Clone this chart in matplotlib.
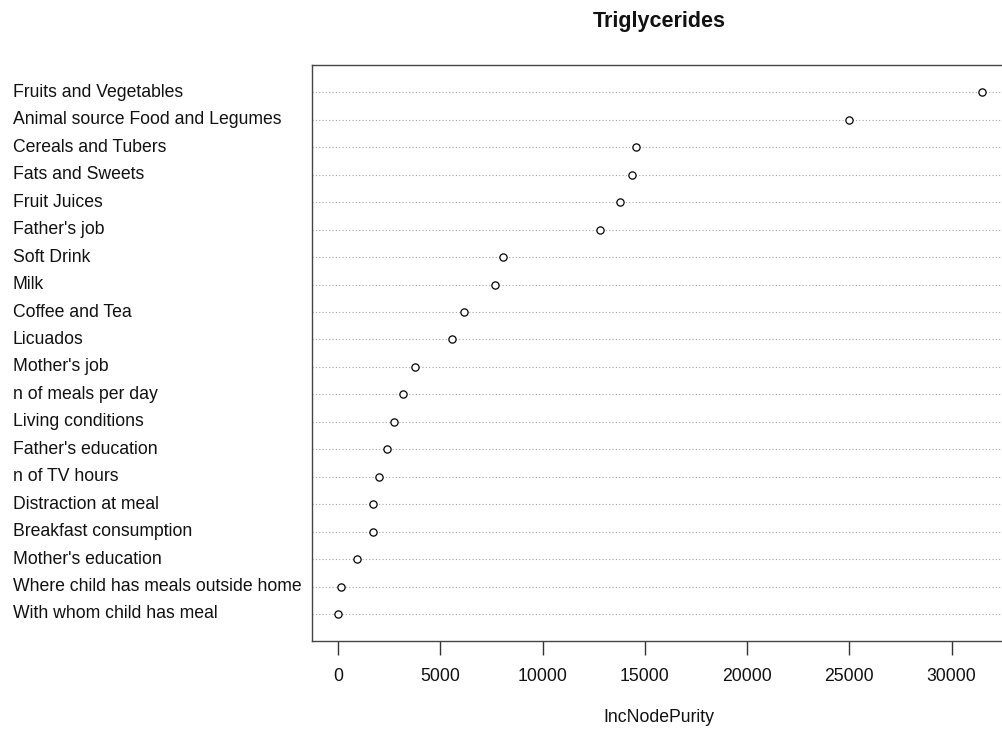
import matplotlib
matplotlib.use("Agg")
import matplotlib.pyplot as plt
from matplotlib.transforms import blended_transform_factory

# Variable importance (IncNodePurity) for triglycerides, ordered top to bottom
variables = [
    "Fruits and Vegetables",
    "Animal source Food and Legumes",
    "Cereals and Tubers",
    "Fats and Sweets",
    "Fruit Juices",
    "Father's job",
    "Soft Drink",
    "Milk",
    "Coffee and Tea",
    "Licuados",
    "Mother's job",
    "n of meals per day",
    "Living conditions",
    "Father's education",
    "n of TV hours",
    "Distraction at meal",
    "Breakfast consumption",
    "Mother's education",
    "Where child has meals outside home",
    "With whom child has meal",
]
inc_node_purity = [
    31500, 25000, 14560, 14380, 13770, 12830, 8060, 7660, 6170, 5560,
    3770, 3150, 2720, 2390, 1990, 1710, 1700, 920, 160, -10,
]
x_ticks = [0, 5000, 10000, 15000, 20000, 25000, 30000]
x_label = "IncNodePurity"
title = "Triglycerides"

plt.rcParams["font.family"] = ["Liberation Sans", "DejaVu Sans"]

W, H = 1002, 729
fig = plt.figure(figsize=(W / 100, H / 100), dpi=100)

# plot region in pixels (box extends slightly past the right edge)
left_px, right_px = 312.2, 1008.0
top_px, bottom_px = 65.0, 641.4
ax = fig.add_axes([left_px / W, 1 - bottom_px / H,
                   (right_px - left_px) / W, (bottom_px - top_px) / H])

n = len(variables)
ypos = list(range(n, 0, -1))

lo, hi = min(inc_node_purity), max(inc_node_purity)
pad = 0.04 * (hi - lo)
ax.set_xlim(lo - pad, hi + pad)
ax.set_ylim(0, n + 1)

# dotted guide lines across the panel
for y in ypos:
    ax.axhline(y, color="#a8a8a8", linestyle=(0, (1, 2)), linewidth=0.8, zorder=1)

ax.plot(inc_node_purity, ypos, linestyle="none", marker="o", markersize=5.2,
        markerfacecolor="white", markeredgecolor="black", markeredgewidth=0.9,
        zorder=3)

for s in ax.spines.values():
    s.set_color("#444444")
    s.set_linewidth(1.0)

ax.set_yticks([])
ax.set_xticks(x_ticks)
ax.set_xticklabels([str(t) for t in x_ticks])
ax.tick_params(axis="x", direction="out", length=10, width=1.0, color="#333333",
               pad=9.5, labelsize=12.7, labelcolor="#111111")

# row labels, left-aligned at the figure margin
trans = blended_transform_factory(fig.transFigure, ax.transData)
for name, y in zip(variables, ypos):
    fig.text(13 / W, y, name, transform=trans, ha="left", va="center",
             fontsize=12.7, color="#111111")

fig.text(659 / W, 1 - 21 / H, title, ha="center", va="center",
         fontsize=15.5, fontweight="bold", color="#111111")
fig.text(659 / W, 1 - 718 / H, x_label, ha="center", va="center",
         fontsize=12.7, color="#111111")

fig.savefig("out.png", dpi=100, facecolor="white")
